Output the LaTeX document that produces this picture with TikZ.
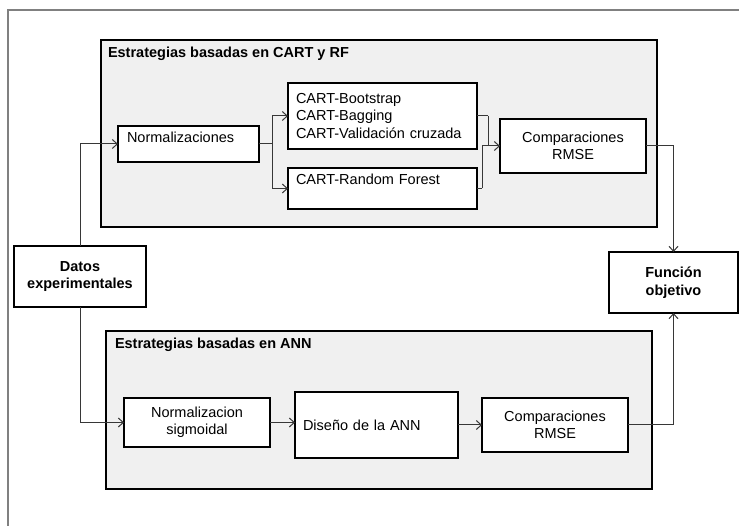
\documentclass[tikz,border=0pt]{standalone}
\usepackage{fontspec}
\setmainfont{Liberation Sans}
\usetikzlibrary{arrows.meta}
\definecolor{groupgrey}{RGB}{240,240,240}
\definecolor{framegrey}{RGB}{128,128,128}
\definecolor{linegrey}{RGB}{55,55,55}
\begin{document}
\begin{tikzpicture}[x=1pt,y=-1pt,
  every node/.style={font=\fontsize{14.5}{17.5}\selectfont, inner sep=0pt, outer sep=0pt},
  gbox/.style={draw=black, line width=1.5pt, fill=groupgrey, anchor=north west},
  cbox/.style={draw=black, line width=1.5pt, fill=white, anchor=north west},
  lefttext/.style={align=left, inner xsep=8pt, text width=#1},
  centertext/.style={align=center, text width=#1},
  gtitle/.style={anchor=base west, font=\fontsize{14.5}{17.5}\selectfont\bfseries},
  conn/.style={draw=linegrey, line width=1pt, -{Straight Barb[length=5pt,width=9pt]}},
  plain/.style={draw=linegrey, line width=1pt}
]
\useasboundingbox (0,0) rectangle (739,526);

% outer frame, open to the right and bottom
\draw[framegrey, line width=2pt] (8,526) -- (8,10) -- (739,10);

% group: CART and RF
\node[gbox, minimum width=556pt, minimum height=187pt] (g1) at (101,40) {};
\node[gtitle] (g1t) at (108,58) {Estrategias basadas en CART y RF};

\node[cbox, minimum width=141pt, minimum height=36pt, lefttext=123pt,
      inner xsep=9pt, text height=17pt, text depth=19pt] (norm) at (118,126) {Normalizaciones};
\node[cbox, minimum width=189pt, minimum height=66pt, lefttext=173pt] (cart) at (288,83)
  {CART-Bootstrap\\CART-Bagging\\CART-Validación cruzada};
\node[cbox, minimum width=189pt, minimum height=41pt, lefttext=173pt,
      text height=17pt, text depth=24pt] (rf) at (288,168) {CART-Random Forest};
\node[cbox, minimum width=146pt, minimum height=54pt, centertext=130pt] (comp) at (500,119)
  {Comparaciones\\RMSE};

% group: ANN
\node[gbox, minimum width=546pt, minimum height=158pt] (g2) at (106,331) {};
\node[gtitle] (g2t) at (115,349) {Estrategias basadas en ANN};

\node[cbox, minimum width=146pt, minimum height=49pt, centertext=130pt] (sig) at (124,398)
  {Normalizacion\\sigmoidal};
\node[cbox, minimum width=163pt, minimum height=66pt, lefttext=147pt] (dis) at (295,392)
  {Diseño de la ANN};
\node[cbox, minimum width=146pt, minimum height=54pt, centertext=130pt] (comp2) at (482,398)
  {Comparaciones\\RMSE};

% input and output
\node[cbox, minimum width=132pt, minimum height=61pt, centertext=124pt, font=\fontsize{14.5}{17.5}\selectfont\bfseries]
  (datos) at (14,246) {Datos\\experimentales};
\node[cbox, minimum width=129pt, minimum height=61pt, centertext=120pt, font=\fontsize{14.5}{17.5}\selectfont\bfseries]
  (fun) at (609,252) {Función\\objetivo};

% connectors, upper branch
\draw[conn] (datos.north) |- (norm.west);
\draw[plain] (norm.east) -- ++(13,0) coordinate (nb);
\draw[conn] (nb) |- (cart.west);
\draw[conn] (nb) |- (rf.west);
\draw[plain] (cart.east) -- ++(11,0) coordinate (cb);
\draw[plain] (rf.east) -- ++(5,0) coordinate (rb);
\draw[plain] (rb) |- (comp.west);
\draw[conn] (cb) |- (comp.west);
\draw[conn] (comp.east) -| (fun.north);

% connectors, lower branch
\draw[conn] (datos.south) |- (sig.west);
\draw[conn] (sig.east) -- (sig.east -| dis.west);
\draw[conn] (dis.east) -- (comp2.west);
\draw[conn] (comp2.east) -| (fun.south);
\end{tikzpicture}
\end{document}
